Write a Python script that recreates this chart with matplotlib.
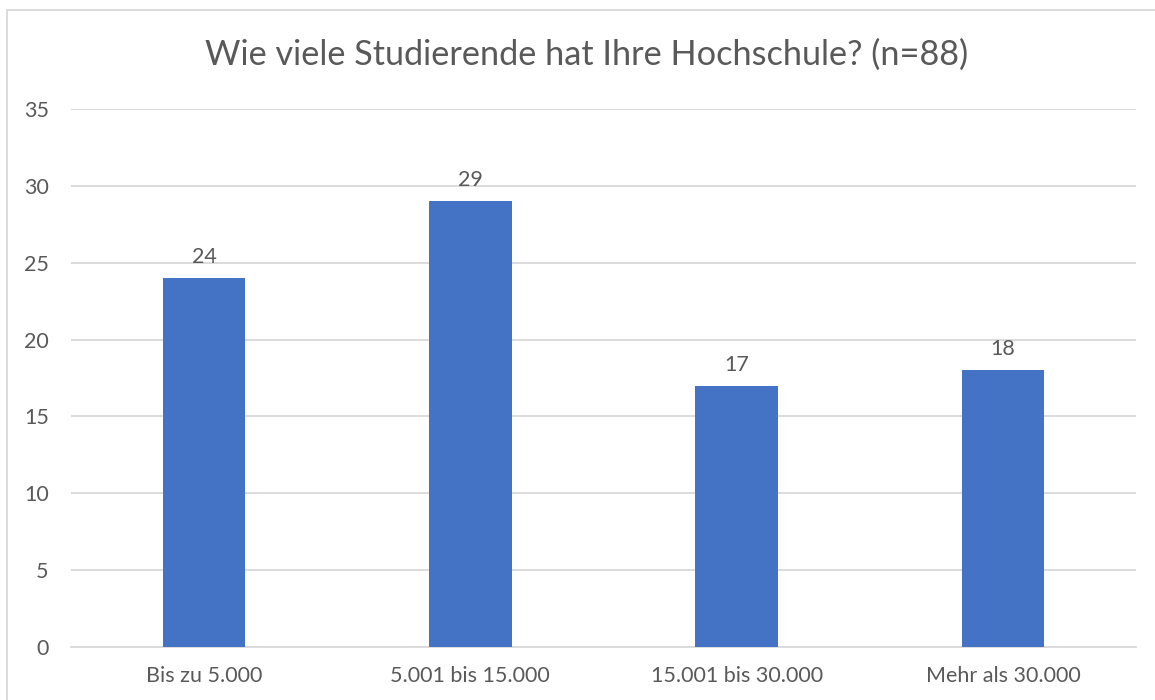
import matplotlib
matplotlib.use("Agg")
import matplotlib.pyplot as plt
from matplotlib.patches import Rectangle

categories = ["Bis zu 5.000", "5.001 bis 15.000", "15.001 bis 30.000", "Mehr als 30.000"]
values = [24, 29, 17, 18]
yticks = [0, 5, 10, 15, 20, 25, 30, 35]
title = "Wie viele Studierende hat Ihre Hochschule? (n=88)"

W, H = 1155, 700
plt.rcParams['font.family'] = ['Lato', 'DejaVu Sans']
text_color = '#595959'
grid_color = '#D9D9D9'
bar_color = '#4472C4'

fig = plt.figure(figsize=(W / 100, H / 100), dpi=100)
fig.patch.set_facecolor('white')

# chart border
fig.add_artist(Rectangle((7 / W, -0.05), 1.2, 1 - 10 / H + 0.05, transform=fig.transFigure,
                         fill=False, edgecolor=grid_color, linewidth=1.3))

ax = fig.add_axes([71 / W, (H - 647) / H, 1065 / W, (647 - 109) / H])
x = list(range(len(categories)))
ax.bar(x, values, width=0.31, color=bar_color, zorder=3)
ax.set_xlim(-0.5, len(categories) - 0.5)
ax.set_ylim(0, 35)
ax.set_yticks(yticks)
ax.set_yticklabels([str(t) for t in yticks])
ax.set_xticks(x)
ax.set_xticklabels(categories)
ax.grid(axis='y', color=grid_color, linewidth=1.3, zorder=0)
ax.tick_params(axis='both', length=0, labelsize=15.5, colors=text_color)
ax.tick_params(axis='y', pad=16)
ax.tick_params(axis='x', pad=14)
for s in ax.spines.values():
    s.set_visible(False)
ax.spines['bottom'].set_visible(True)
ax.spines['bottom'].set_color(grid_color)
ax.spines['bottom'].set_linewidth(1.3)

for xi, v in zip(x, values):
    ax.annotate(str(v), (xi, v), xytext=(0, 8), textcoords='offset points',
                ha='center', va='bottom', fontsize=15.5, color=text_color)

fig.text(587 / W, 1 - 55 / H, title, ha='center', va='center', fontsize=24.7, color=text_color)

fig.savefig('out.png', dpi=100, facecolor='white')
